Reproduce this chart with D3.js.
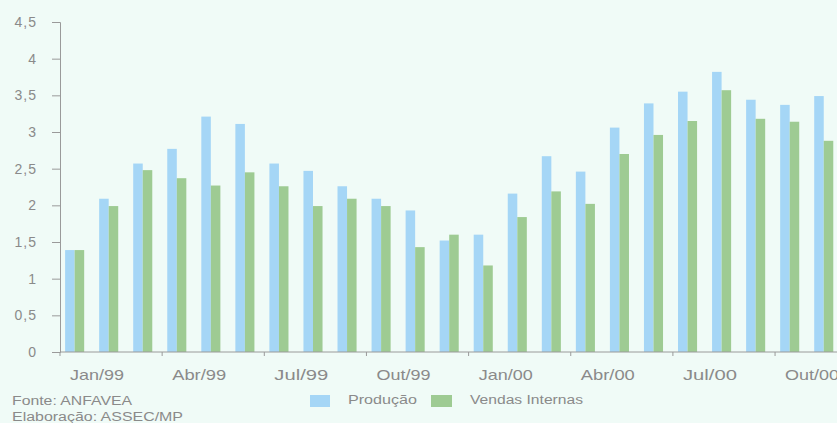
<!DOCTYPE html>
<html><head><meta charset="utf-8">
<script src="https://cdn.jsdelivr.net/npm/d3@7"></script>
<style>
html,body{margin:0;padding:0;background:#f0fbf7;}
svg{display:block;}
text{font-family:"Liberation Sans",Arial,sans-serif;fill:#8a8a8a;}
</style></head>
<body>
<svg id="c" width="837" height="423"></svg>
<script>
const months = ["Jan/99","Fev/99","Mar/99","Abr/99","Mai/99","Jun/99","Jul/99","Ago/99","Set/99","Out/99","Nov/99","Dez/99",
                "Jan/00","Fev/00","Mar/00","Abr/00","Mai/00","Jun/00","Jul/00","Ago/00","Set/00","Out/00","Nov/00"];
const producao = [1.39,2.09,2.57,2.77,3.21,3.11,2.57,2.47,2.26,2.09,1.93,1.52,1.60,2.16,2.67,2.46,3.06,3.39,3.55,3.82,3.44,3.37,3.49];
const vendas   = [1.39,1.99,2.48,2.37,2.27,2.45,2.26,1.99,2.09,1.99,1.43,1.60,1.18,1.84,2.19,2.02,2.70,2.96,3.15,3.57,3.18,3.14,2.88];
const seriesNames = ["Produção","Vendas Internas"];
const colors = ["#a5d6f6","#9ecb93"];
const yTicks = [0,0.5,1,1.5,2,2.5,3,3.5,4,4.5];
const xLabelMonths = ["Jan/99","Abr/99","Jul/99","Out/99","Jan/00","Abr/00","Jul/00","Out/00"];

const svg = d3.select("#c");
const mLeft = 60, mBottom = 352, mTop = 22;
const x0 = d3.scaleBand().domain(months).range([mLeft, mLeft + 23*34.05]).padding(0);
const bw = x0.bandwidth();
const x1 = d3.scaleBand().domain(seriesNames).range([bw*0.15, bw*0.71]).padding(0);
const y = d3.scaleLinear().domain([0,4.5]).range([mBottom, mTop]);
const fmt = v => String(v).replace(".", ",");

// bars
const data = months.map((m,i)=>({m, vals:[producao[i], vendas[i]]}));
const g = svg.append("g");
data.forEach(d=>{
  d.vals.forEach((v,j)=>{
    g.append("rect")
      .attr("x", x0(d.m) + x1(seriesNames[j]))
      .attr("y", y(v))
      .attr("width", x1.bandwidth())
      .attr("height", y(0) - y(v))
      .attr("fill", colors[j]);
  });
});

// y axis
const yAxis = svg.append("g").attr("transform", `translate(${mLeft},0)`)
  .call(d3.axisLeft(y).tickValues(yTicks).tickFormat(fmt).tickSize(8).tickPadding(15));
yAxis.select(".domain").attr("stroke","#9a9a9a");
yAxis.selectAll(".tick line").attr("stroke","#9a9a9a");
yAxis.selectAll("text").attr("font-size",14).attr("fill","#8a8a8a")
  .attr("font-family","Liberation Sans, Arial, sans-serif").style("letter-spacing","1px");

// x axis
const xAxis = svg.append("g").attr("transform", `translate(0,${mBottom})`);
xAxis.append("line").attr("x1", mLeft).attr("x2", 837).attr("y1",0).attr("y2",0).attr("stroke","#9a9a9a");
xLabelMonths.forEach(m=>{
  const xt = x0(m);
  xAxis.append("line").attr("x1",xt).attr("x2",xt).attr("y1",0).attr("y2",4).attr("stroke","#9a9a9a");
  xAxis.append("text").attr("x", xt + bw + 3).attr("y", 28).attr("text-anchor","middle")
    .attr("font-size",15).attr("textLength",54).attr("lengthAdjust","spacingAndGlyphs").text(m);
});

// legend
const lg = svg.append("g");
lg.append("rect").attr("x",310).attr("y",395).attr("width",20).attr("height",12).attr("fill",colors[0]);
lg.append("text").attr("x",348).attr("y",404).attr("font-size",12.5).attr("textLength",69).attr("lengthAdjust","spacingAndGlyphs").text(seriesNames[0]);
lg.append("rect").attr("x",431).attr("y",395).attr("width",21).attr("height",12).attr("fill",colors[1]);
lg.append("text").attr("x",470).attr("y",404).attr("font-size",12.5).attr("textLength",113).attr("lengthAdjust","spacingAndGlyphs").text(seriesNames[1]);

// source
svg.append("text").attr("x",12).attr("y",405).attr("font-size",12).attr("textLength",120).attr("lengthAdjust","spacingAndGlyphs").text("Fonte: ANFAVEA");
svg.append("text").attr("x",12).attr("y",421).attr("font-size",12).attr("textLength",171).attr("lengthAdjust","spacingAndGlyphs").text("Elaboração: ASSEC/MP");
</script>
</body></html>
